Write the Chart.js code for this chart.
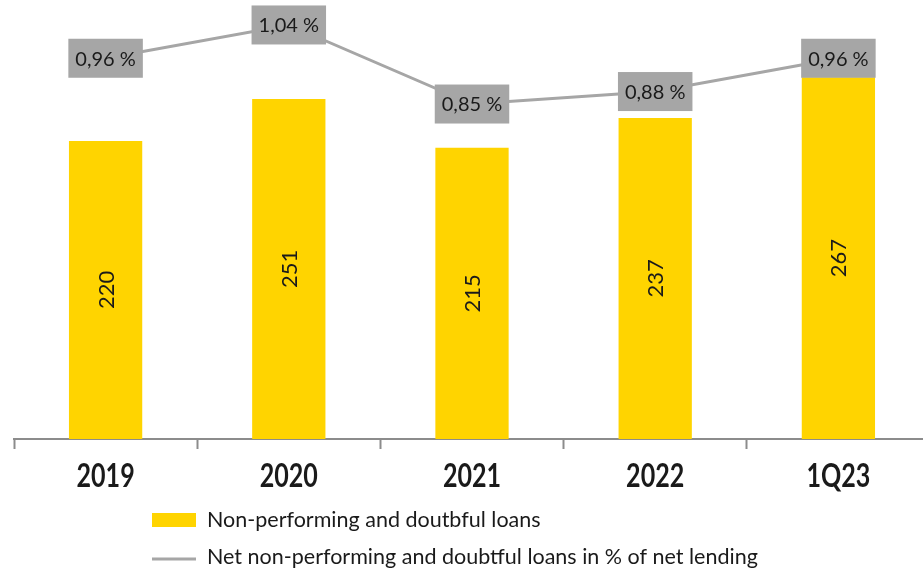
<!DOCTYPE html>
<html>
<head>
<meta charset="utf-8">
<title>Non-performing loans</title>
<script src="https://cdn.jsdelivr.net/npm/chart.js@4/dist/chart.umd.min.js"></script>
<style>
  html, body { margin: 0; padding: 0; background: #fff; overflow: hidden; }
  #wrap { width: 940px; height: 570px; }
</style>
</head>
<body>
<div id="wrap"><canvas id="npl" width="940" height="570"></canvas></div>
<script>
  // data
  const periods = ["2019", "2020", "2021", "2022", "1Q23"];
  const nplVolume = [220, 251, 215, 237, 267];
  const nplRatio = [0.96, 1.04, 0.85, 0.88, 0.96];
  const seriesNames = [
    "Non-performing and doutbful loans",
    "Net non-performing and doubtful loans in % of net lending",
  ];

  const YELLOW = "#ffd400";
  const GREY = "#a6a6a6";
  const INK = "#1a1a1a";
  const TEXT_FONT = "Lato, 'Open Sans', sans-serif";

  function fmtPct(v) {
    return v.toFixed(2).replace(".", ",") + " %";
  }

  // values inside bars + grey boxes on the line
  const valueLabels = {
    id: "valueLabels",
    afterDatasetsDraw(chart) {
      const ctx = chart.ctx;
      ctx.save();
      ctx.fillStyle = INK;
      ctx.font = "22px " + TEXT_FONT;
      ctx.textAlign = "center";
      ctx.textBaseline = "middle";
      chart.getDatasetMeta(0).data.forEach((bar, i) => {
        ctx.save();
        ctx.translate(bar.x, (bar.y + bar.base) / 2);
        ctx.rotate(-Math.PI / 2);
        ctx.fillText(String(nplVolume[i]), 0, 1);
        ctx.restore();
      });

      ctx.font = "20px " + TEXT_FONT;
      chart.getDatasetMeta(1).data.forEach((pt, i) => {
        const txt = fmtPct(nplRatio[i]);
        const w = ctx.measureText(txt).width + 14;
        const h = 39;
        ctx.fillStyle = GREY;
        ctx.fillRect(pt.x - w / 2, pt.y - h / 2, w, h);
        ctx.fillStyle = INK;
        ctx.fillText(txt, pt.x, pt.y + 1);
      });
      ctx.restore();
    },
  };

  // narrow bold category names (no condensed face installed, so squeeze horizontally)
  const categoryNames = {
    id: "categoryNames",
    afterDraw(chart) {
      const ctx = chart.ctx;
      const xs = chart.scales.x;
      ctx.save();
      ctx.fillStyle = INK;
      ctx.font = "bold 33px " + TEXT_FONT;
      ctx.textAlign = "center";
      ctx.textBaseline = "middle";
      periods.forEach((p, i) => {
        ctx.save();
        ctx.translate(xs.getPixelForValue(i), 476);
        ctx.scale(0.76, 1);
        ctx.fillText(p, 0, 0);
        ctx.restore();
      });
      ctx.restore();
    },
  };

  // stacked legend, left-aligned under the axis
  const stackedLegend = {
    id: "stackedLegend",
    afterDraw(chart) {
      const ctx = chart.ctx;
      const x0 = 152, sw = 44;
      ctx.save();
      ctx.fillStyle = YELLOW;
      ctx.fillRect(x0, 513, sw, 14);
      ctx.strokeStyle = GREY;
      ctx.lineWidth = 3;
      ctx.beginPath();
      ctx.moveTo(x0, 559);
      ctx.lineTo(x0 + sw, 559);
      ctx.stroke();
      ctx.fillStyle = INK;
      ctx.font = "21.5px " + TEXT_FONT;
      ctx.textAlign = "left";
      ctx.textBaseline = "middle";
      ctx.fillText(seriesNames[0], 207, 520);
      ctx.fillText(seriesNames[1], 207, 557);
      ctx.restore();
    },
  };

  new Chart(document.getElementById("npl"), {
    type: "bar",
    data: {
      labels: periods,
      datasets: [
        {
          type: "bar",
          label: seriesNames[0],
          data: nplVolume,
          backgroundColor: YELLOW,
          borderWidth: 0,
          barPercentage: 0.8,
          categoryPercentage: 0.5,
          yAxisID: "y",
          order: 2,
        },
        {
          type: "line",
          label: seriesNames[1],
          data: nplRatio,
          borderColor: GREY,
          borderWidth: 3,
          pointRadius: 0,
          tension: 0,
          yAxisID: "y2",
          order: 1,
        },
      ],
    },
    options: {
      responsive: false,
      animation: false,
      devicePixelRatio: 1,
      layout: { padding: { left: 14, right: 10, top: 0, bottom: 0 } },
      plugins: {
        legend: { display: false },
        tooltip: { enabled: false },
      },
      scales: {
        x: {
          afterFit(scale) { scale.height = 131; },
          grid: {
            display: true,
            drawOnChartArea: false,
            drawTicks: true,
            tickLength: 10,
            tickWidth: 2,
            color: "#8c8c8c",
          },
          border: { display: true, color: "#8c8c8c", width: 2 },
          ticks: {
            color: "rgba(0,0,0,0)",
            padding: 7,
            font: { family: TEXT_FONT, size: 33, weight: "bold" },
          },
        },
        y: { display: false, min: 0, max: 324 },
        y2: { display: false, position: "right", min: 0.045, max: 1.1 },
      },
    },
    plugins: [valueLabels, categoryNames, stackedLegend],
  });
</script>
</body>
</html>
